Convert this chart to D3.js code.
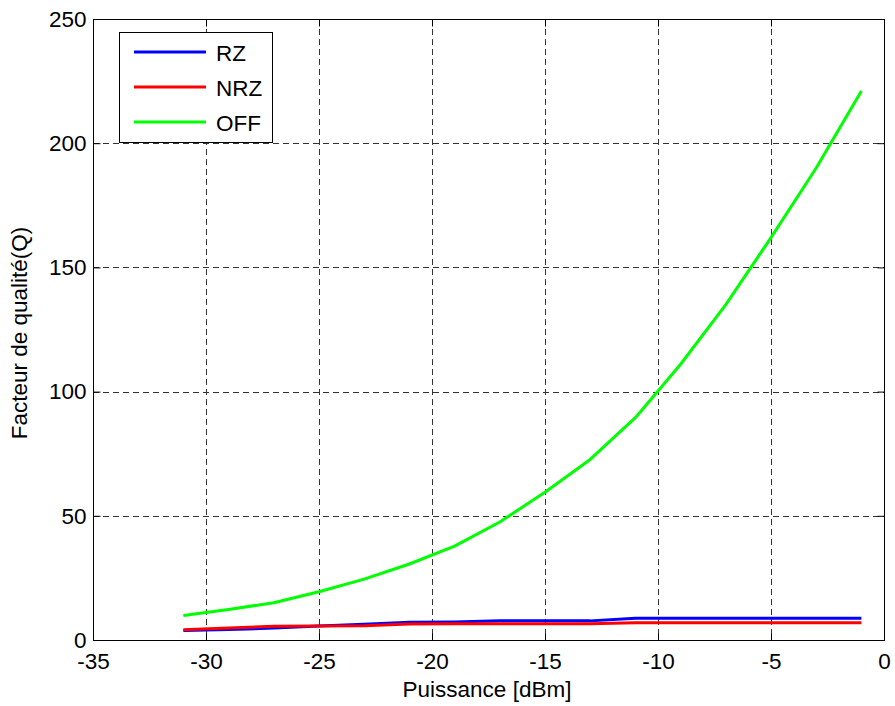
<!DOCTYPE html>
<html>
<head>
<meta charset="utf-8">
<script src="https://cdn.jsdelivr.net/npm/d3@7"></script>
<style>
  body { margin: 0; background: #fff; }
  text { font-family: "Liberation Sans", Arial, Helvetica, sans-serif; }
</style>
</head>
<body>
<svg id="chart" width="895" height="706"></svg>
<script>
const power = [-31, -29, -27, -25, -23, -21, -19, -17, -15, -13, -11, -9, -7, -5, -3, -1];
const rz  = [3.8, 4.2, 4.8, 5.6, 6.3, 7.1, 7.2, 7.7, 7.7, 7.7, 8.8, 8.8, 8.8, 8.8, 8.8, 8.8];
const nrz = [4.1, 4.8, 5.5, 5.6, 5.7, 6.4, 6.5, 6.5, 6.5, 6.5, 6.9, 6.9, 6.9, 6.9, 6.9, 6.9];
const off = [9.9, 12.3, 15.0, 19.4, 24.5, 30.6, 37.8, 47.5, 59.5, 72.7, 89.5, 111, 135, 162, 190, 221];
const xTicks = [-35, -30, -25, -20, -15, -10, -5, 0];
const yTicks = [0, 50, 100, 150, 200, 250];
const seriesNames = ["RZ", "NRZ", "OFF"];
const seriesColors = ["#0000ff", "#ff0000", "#00ff00"];

const svg = d3.select("#chart");
const L = 93, R = 884, T = 19, B = 640;
const x = d3.scaleLinear().domain([-35, 0]).range([L, R]);
const y = d3.scaleLinear().domain([0, 250]).range([B, T]);

// grid
const grid = svg.append("g").attr("stroke", "#333").attr("stroke-width", 1)
  .attr("stroke-dasharray", "6,4").attr("fill", "none");
xTicks.slice(1, -1).forEach(v => {
  grid.append("line").attr("x1", Math.round(x(v)) + 0.5).attr("x2", Math.round(x(v)) + 0.5)
    .attr("y1", T).attr("y2", B);
});
yTicks.slice(1, -1).forEach(v => {
  grid.append("line").attr("y1", Math.round(y(v)) + 0.5).attr("y2", Math.round(y(v)) + 0.5)
    .attr("x1", L).attr("x2", R);
});

// series
const series = [rz, nrz, off];
const line = d3.line().x((d, i) => x(power[i])).y(d => y(d));
series.forEach((s, k) => {
  svg.append("path").datum(s).attr("d", line)
    .attr("fill", "none").attr("stroke", seriesColors[k]).attr("stroke-width", 3)
    .attr("stroke-linejoin", "round");
});

// axes
const fontSize = 22.5;
const xAxis = d3.axisBottom(x).tickValues(xTicks).tickSizeInner(-7).tickSizeOuter(0).tickPadding(13);
const gx = svg.append("g").attr("transform", `translate(0,${B + 0.5})`).call(xAxis);
const yAxis = d3.axisLeft(y).tickValues(yTicks).tickSizeInner(-7).tickSizeOuter(0).tickPadding(7);
const gy = svg.append("g").attr("transform", `translate(${L + 0.5},0)`).call(yAxis);
const gxt = svg.append("g").attr("transform", `translate(0,${T + 0.5})`)
  .call(d3.axisTop(x).tickValues(xTicks).tickSizeInner(-7).tickSizeOuter(0).tickFormat(""));
const gyr = svg.append("g").attr("transform", `translate(${R + 0.5},0)`)
  .call(d3.axisRight(y).tickValues(yTicks).tickSizeInner(-7).tickSizeOuter(0).tickFormat(""));
[gx, gy, gxt, gyr].forEach(g => {
  g.select(".domain").remove();
  g.selectAll("line").attr("stroke", "#000");
  g.selectAll("text").attr("font-size", fontSize).attr("fill", "#000")
    .attr("font-family", "'Liberation Sans', Arial, sans-serif");
});
gx.selectAll("text").text(d => String(d));

svg.append("rect").attr("x", L + 0.5).attr("y", T + 0.5).attr("width", R - L).attr("height", B - T)
  .attr("fill", "none").attr("stroke", "#000").attr("stroke-width", 1);

// titles
svg.append("text").attr("x", 487).attr("y", 697).attr("text-anchor", "middle")
  .attr("font-size", fontSize).text("Puissance [dBm]");
svg.append("text").attr("transform", `translate(27,333) rotate(-90)`)
  .attr("text-anchor", "middle").attr("font-size", fontSize).text("Facteur de qualité(Q)");

// legend
const lg = svg.append("g");
lg.append("rect").attr("x", 119.5).attr("y", 32.5).attr("width", 153).attr("height", 110)
  .attr("fill", "#fff").attr("stroke", "#000").attr("stroke-width", 1);
seriesNames.forEach((n, i) => {
  const yy = 52 + i * 35;
  lg.append("line").attr("x1", 134).attr("x2", 206).attr("y1", yy).attr("y2", yy)
    .attr("stroke", seriesColors[i]).attr("stroke-width", 3);
  lg.append("text").attr("x", 216).attr("y", yy + 8.5).attr("font-size", fontSize).text(n);
});
</script>
</body>
</html>
